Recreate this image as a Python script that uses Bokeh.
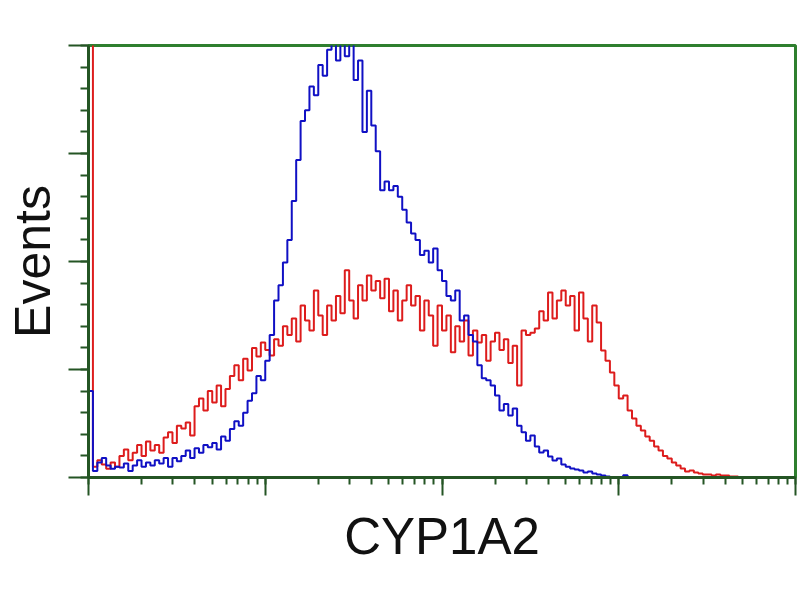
import numpy as np
from bokeh.plotting import figure
from bokeh.models import Range1d, LogTicker, SingleIntervalTicker, CustomJSTickFormatter
from bokeh.embed import file_html
from bokeh.resources import INLINE

# Histogram channels: bins of 0.025 decade starting at 10^0
channel_log_width = 0.025

blue_counts = [
    40, 3, 7, 9, 5.5, 4, 5, 4.6, 6.5, 3,
    5.5, 8, 5, 7, 5.5, 8, 6.5, 9, 5, 9,
    7.5, 10, 12.5, 9, 13.5, 11.5, 15, 14, 16, 13,
    19, 17, 22.5, 26, 24, 30, 35.5, 39, 47, 45,
    54, 66, 82, 89, 99.5, 110, 128, 147, 165, 170,
    181, 177, 191, 186, 198, 210, 193, 210, 195, 205,
    184, 193, 160, 179, 163, 151, 133, 137, 133, 135,
    130, 124, 118, 113, 110, 103, 105, 99.5, 106, 96,
    91, 84, 82, 86.6, 72.7, 75, 66, 63, 52, 46,
    45, 42.6, 38, 31, 34, 28.7, 32, 24, 21, 17,
    19.4, 14.4, 11.6, 12.5, 9.7, 7.9, 8.8, 6, 5, 4.2,
    3.7, 3.2, 2.3, 2.8, 1.9, 1.4, 0.9, 0.5, 0, 0,
    0, 1, 0, 0,
]

red_counts = [
    280, 5, 8, 6, 4, 7, 5, 10, 13, 8,
    11.5, 15, 10, 16.7, 12.5, 15, 11.5, 18.5, 21, 16,
    24, 22.7, 25.5, 19.4, 33, 36.6, 31, 40, 34.7, 42.6,
    33, 41, 47, 52, 45, 55, 49.5, 60, 56, 62.5,
    59, 56.5, 64, 61, 70, 66, 73.6, 63, 79.6, 72.7,
    68, 86.6, 75, 66, 79.6, 72.7, 84, 76, 96, 82,
    73.6, 89, 82, 93.5, 86.6, 91, 83, 92, 77, 86.6,
    72.7, 82, 89, 79.6, 84, 68, 82, 75, 61, 79.6,
    68, 75, 58, 70, 63, 72.7, 56.5, 68, 62.5, 66,
    54, 63, 67, 59, 64, 53, 61, 42.6, 68, 66,
    67, 69, 77, 72.7, 85.6, 73.6, 82, 86.6, 79.6, 84,
    68, 85.6, 73.6, 63, 79.6, 71.8, 58.8, 54, 48.6, 42.6,
    36.6, 38, 31, 27.3, 24, 21.8, 19, 17, 14.4, 12.5,
    10, 8.8, 7, 5.5, 4.2, 2.8, 3.2, 2.3, 1.9, 1.4,
    1.4, 0.9, 1.4, 0.9, 0.9, 0.5, 0.5, 0,
]

x_label = "CYP1A2"
y_label = "Events"

blue_x = [10 ** (i * channel_log_width) for i in range(len(blue_counts))]
red_x = [10 ** (i * channel_log_width) for i in range(len(red_counts))]

p = figure(
    width=800, height=600,
    x_axis_type="log",
    x_range=Range1d(1, 10 ** 4),
    y_range=Range1d(0, 200),
    output_backend="svg",
    toolbar_location=None,
    min_border_left=88, min_border_right=5,
    min_border_top=45, min_border_bottom=123,
)

p.step(red_x, red_counts, mode="after", line_color="#dd1c1c", line_width=2)
p.step(blue_x, blue_counts, mode="after", line_color="#1010c4", line_width=2)

p.xgrid.visible = False
p.ygrid.visible = False
p.background_fill_color = "white"
p.border_fill_color = "white"
p.outline_line_color = "#2f7f2f"
p.outline_line_width = 3

axis_color = "#245524"

xa = p.xaxis[0]
xa.ticker = LogTicker(mantissas=[1], num_minor_ticks=10)
xa.formatter = CustomJSTickFormatter(code="return '';")
xa.axis_line_color = axis_color
xa.axis_line_width = 3
xa.major_tick_line_color = axis_color
xa.minor_tick_line_color = axis_color
xa.major_tick_line_width = 2
xa.minor_tick_line_width = 2
xa.major_tick_out = 18
xa.major_tick_in = 0
xa.minor_tick_out = 7
xa.minor_tick_in = 0
xa.major_label_standoff = 0
xa.axis_label = x_label
xa.axis_label_text_font = "Liberation Sans"
xa.axis_label_text_font_size = "51px"
xa.axis_label_text_font_style = "normal"
xa.axis_label_text_color = "#111111"
xa.axis_label_standoff = 12

ya = p.yaxis[0]
ya.ticker = SingleIntervalTicker(interval=50, num_minor_ticks=5)
ya.formatter = CustomJSTickFormatter(code="return '';")
ya.axis_line_color = axis_color
ya.axis_line_width = 3
ya.major_tick_line_color = axis_color
ya.minor_tick_line_color = axis_color
ya.major_tick_line_width = 2
ya.minor_tick_line_width = 2
ya.major_tick_out = 20
ya.major_tick_in = 0
ya.minor_tick_out = 8
ya.minor_tick_in = 0
ya.major_label_standoff = 0
ya.axis_label = y_label
ya.axis_label_text_font = "Liberation Sans"
ya.axis_label_text_font_size = "50px"
ya.axis_label_text_font_style = "normal"
ya.axis_label_text_color = "#111111"
ya.axis_label_standoff = 8

open("out.html", "w").write(file_html(p, INLINE))
